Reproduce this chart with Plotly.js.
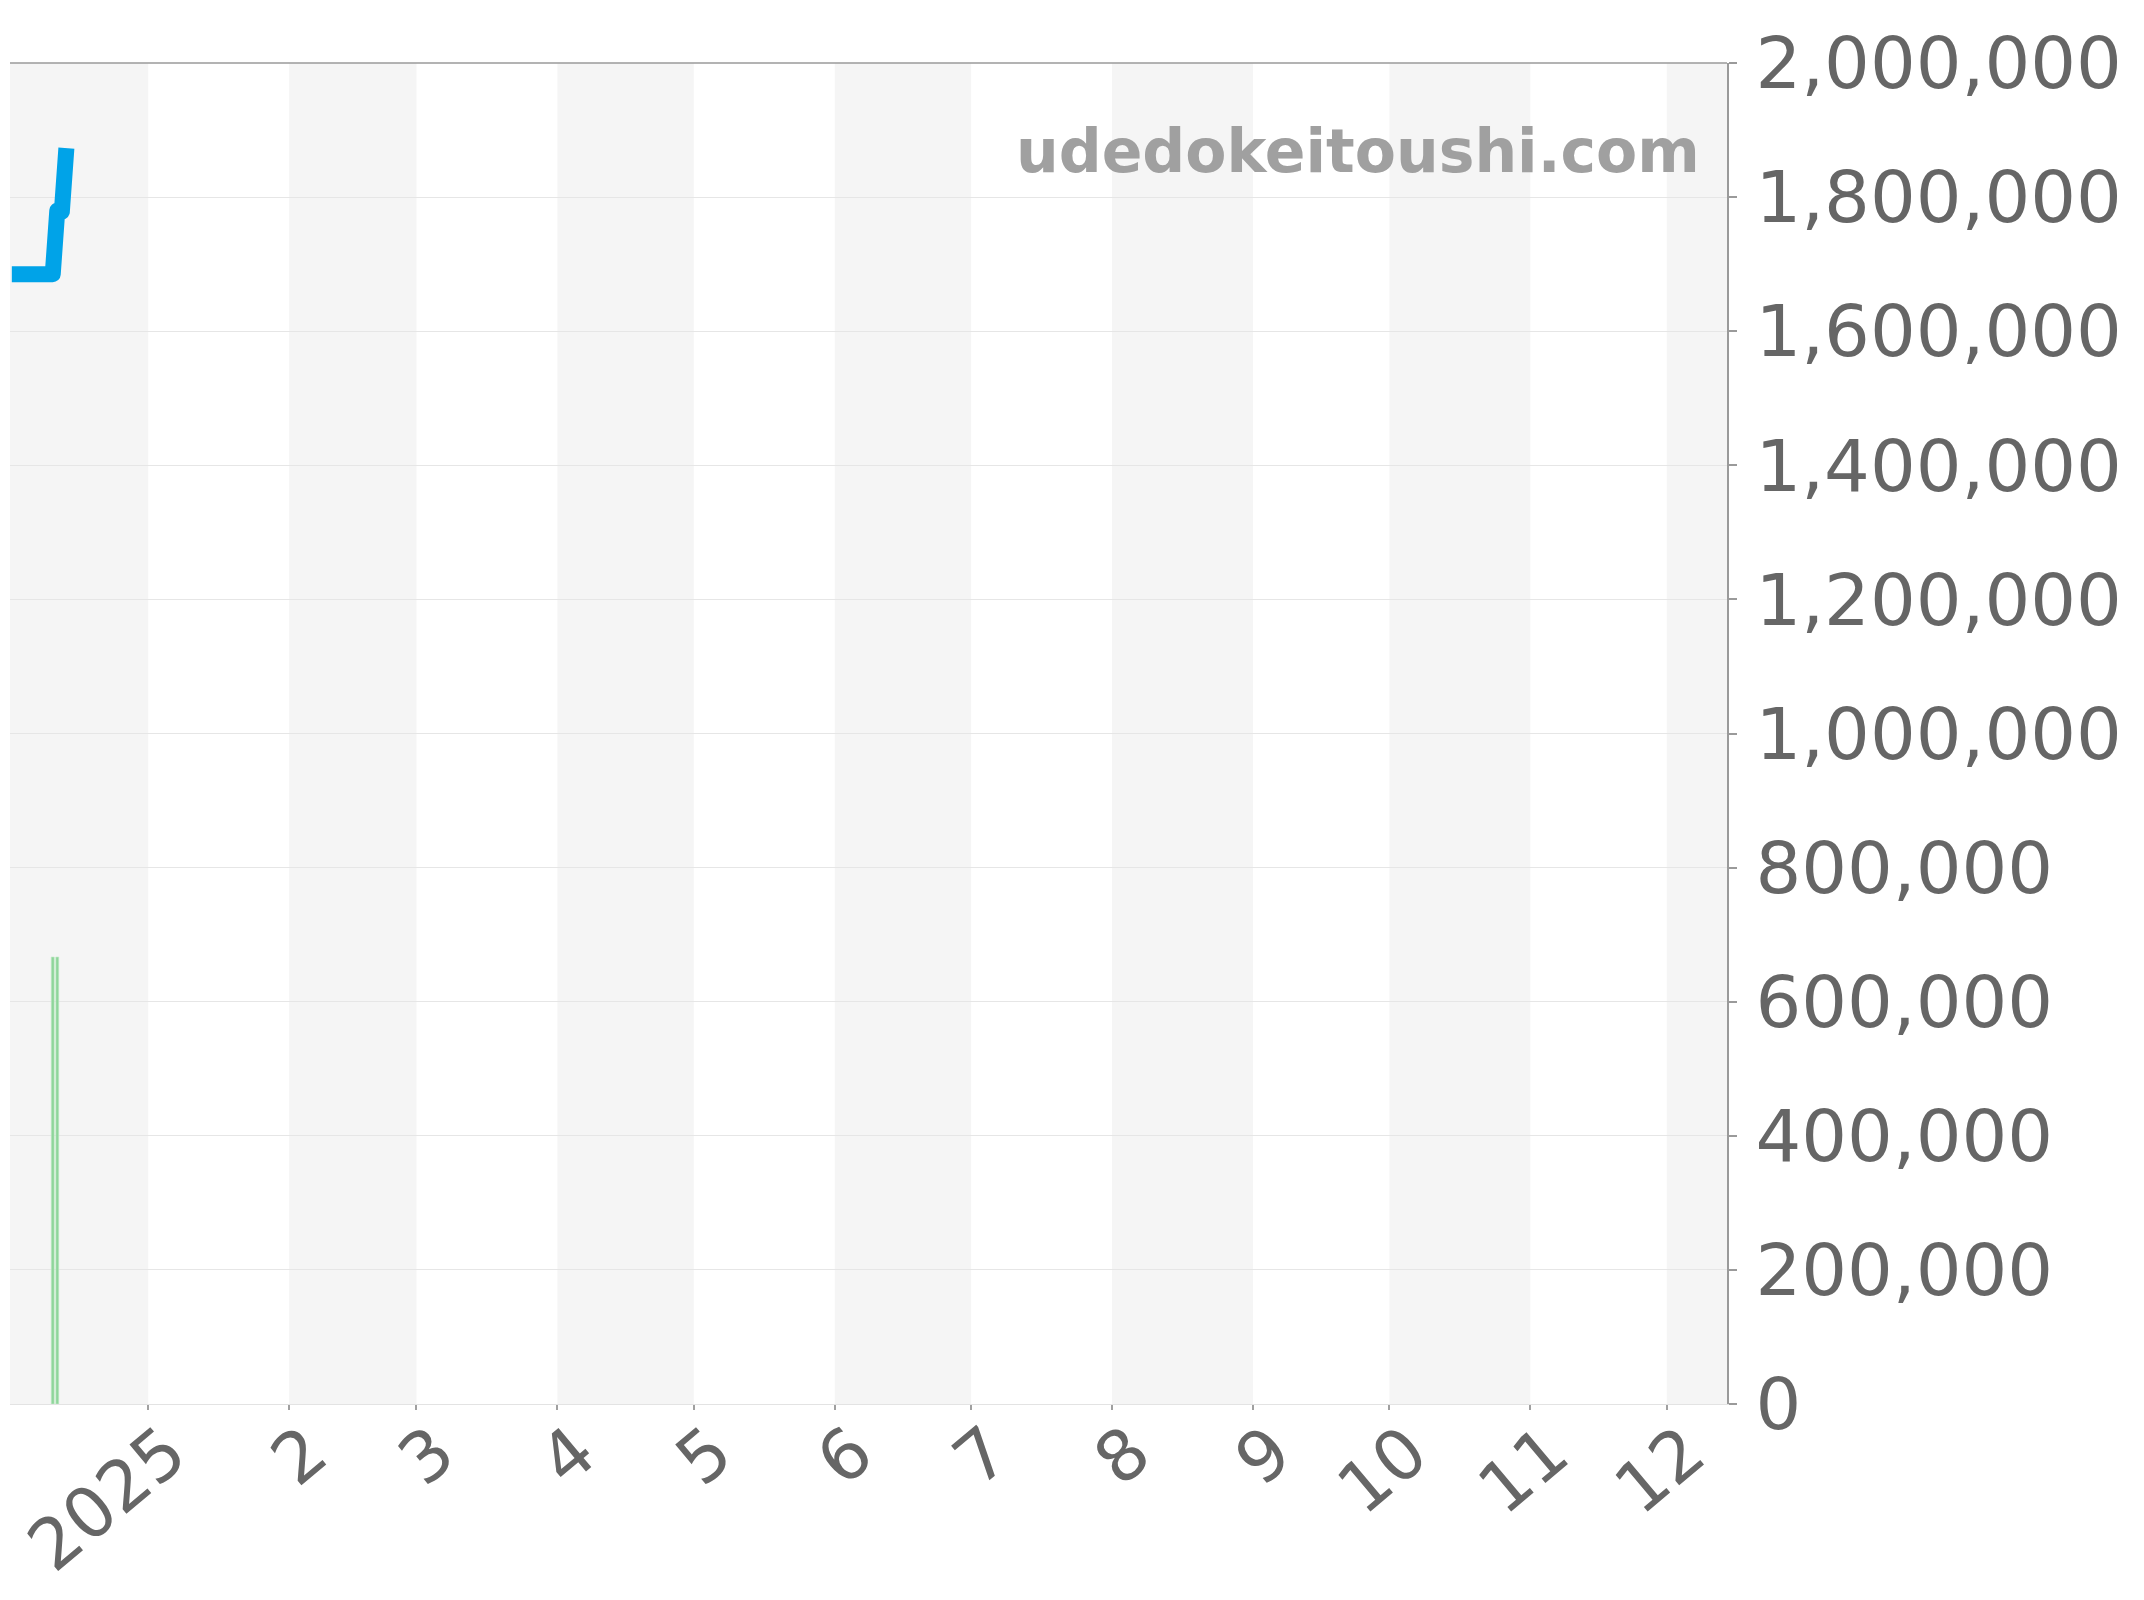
<!DOCTYPE html>
<html>
<head>
<meta charset="utf-8">
<script src="https://cdn.plot.ly/plotly-3.0.1.min.js"></script>
<style>
html,body{margin:0;padding:0;background:#fff;}
#chart{width:2144px;height:1600px;}
#chart .scatterlayer path.js-line{stroke-linejoin:round;}
</style>
</head>
<body>
<div id="chart"></div>
<script>
// ---- data ----
const priceDates = ['2024-12-02','2024-12-03','2024-12-04','2024-12-05','2024-12-06','2024-12-07','2024-12-08','2024-12-09','2024-12-10','2024-12-11','2024-12-12','2024-12-13','2024-12-14'];
const priceValues = [1685000,1685000,1685000,1685000,1685000,1685000,1685000,1685000,1685000,1685000,1780000,1778000,1873000];
const volumeDates = ['2024-12-11','2024-12-12'];
const volumeValues = [1,1];
const tickDates = ['2025-01-01','2025-02-01','2025-03-01','2025-04-01','2025-05-01','2025-06-01','2025-07-01','2025-08-01','2025-09-01','2025-10-01','2025-11-01','2025-12-01'];
const tickLabels = ['2025','2','3','4','5','6','7','8','9','10','11','12'];
const yTickVals = [0,200000,400000,600000,800000,1000000,1200000,1400000,1600000,1800000,2000000];
const xRange = ['2024-12-01 14:24','2025-12-14 06:00'];
const watermark = 'udedokeitoushi.com';

// shaded month bands (every other month, starting with the partial month before the first tick)
const bandEdges = [xRange[0]].concat(tickDates).concat([xRange[1]]);
const shapes = [];
for (let i = 0; i < bandEdges.length - 1; i += 2) {
  shapes.push({type:'rect', xref:'x', yref:'paper', x0:bandEdges[i], x1:bandEdges[i+1], y0:0, y1:1,
    fillcolor:'#f5f5f5', line:{width:0}, layer:'below'});
}
// top frame line
shapes.push({type:'line', xref:'paper', yref:'paper', x0:0, x1:1, y0:1, y1:1, line:{color:'#9a9a9a', width:1.5}});

const font = 'DejaVu Sans, Liberation Sans, sans-serif';

const traces = [
  {type:'bar', x:volumeDates, y:volumeValues, yaxis:'y2', width:57000000,
   marker:{color:'#8fd59b', line:{color:'#c4ecca', width:0.6}}, hoverinfo:'skip', showlegend:false},
  {type:'scatter', mode:'lines', x:priceDates, y:priceValues,
   line:{color:'#00a3e8', width:16, shape:'linear'}, showlegend:false}
];

const layout = {
  width:2144, height:1600,
  margin:{l:10, r:417, t:63, b:196, pad:0},
  paper_bgcolor:'#ffffff', plot_bgcolor:'#ffffff',
  font:{family:font, color:'#666666'},
  showlegend:false,
  xaxis:{type:'date', range:xRange, tickvals:tickDates, ticktext:tickLabels,
    tickangle:-40, tickfont:{size:70, color:'#666666', family:font},
    ticks:'outside', ticklen:5, tickwidth:2, tickcolor:'#a0a0a0',
    ticklabeloverflow:'allow', ticklabelshift:20, ticklabelstandoff:-26,
    showgrid:false, zeroline:false, showline:true, linecolor:'#e3e3e3', linewidth:1},
  yaxis:{side:'right', range:[0,2000000], tickvals:yTickVals, tickformat:',d',
    tickfont:{size:72, color:'#666666', family:font},
    ticks:'outside', ticklen:8, tickwidth:2, tickcolor:'#9a9a9a',
    showline:true, linecolor:'#9a9a9a', linewidth:2,
    showgrid:true, gridcolor:'#e6e6e6', gridwidth:1, zeroline:false, ticklabelstandoff:4},
  yaxis2:{overlaying:'y', range:[0,3], visible:false, showgrid:false,
    zeroline:true, zerolinecolor:'#b8e6bf', zerolinewidth:1.5},
  shapes:shapes,
  annotations:[{xref:'paper', yref:'paper', x:0.9854, y:0.9344, xanchor:'right', yanchor:'middle',
    text:'<b>'+watermark+'</b>', showarrow:false, font:{family:font, size:60, color:'#a0a0a0'}}]
};

Plotly.newPlot('chart', traces, layout, {displayModeBar:false, staticPlot:true});
</script>
</body>
</html>
